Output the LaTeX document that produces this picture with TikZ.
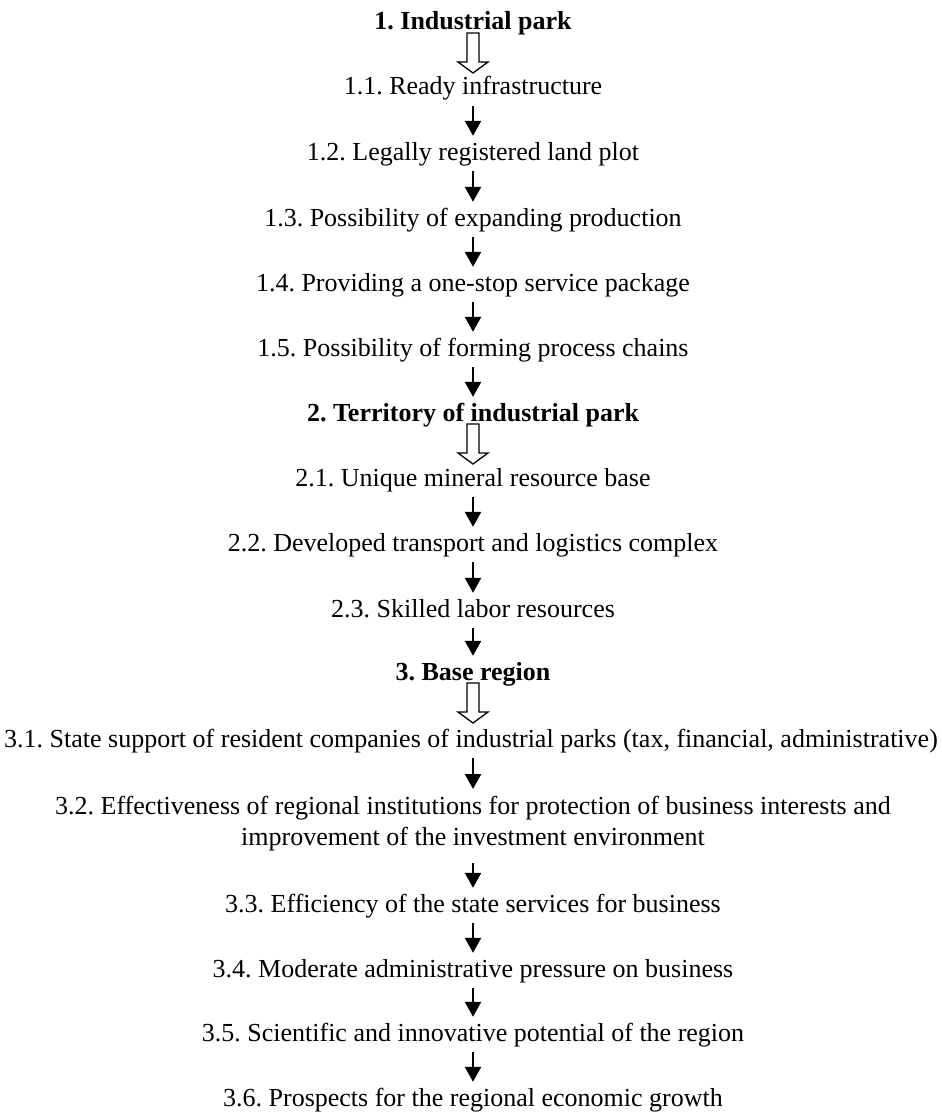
\documentclass[tikz,border=0pt]{standalone}
\usepackage{fontspec}
\setmainfont{Liberation Serif}
\usepackage{tikz}
\usetikzlibrary{arrows.meta,calc}
\frenchspacing

\begin{document}
\begin{tikzpicture}[x=1pt, y=1pt,
    item/.style={anchor=base, inner sep=0pt, text height=17pt, text depth=6pt, font=\fontsize{26}{31}\selectfont},
    head/.style={item, font=\fontsize{26}{31}\selectfont\bfseries},
    twoline/.style={anchor=north, inner sep=0pt, align=center, font=\fontsize{26}{31}\selectfont},
    arr/.style={line width=2.4pt, -{Triangle[width=16pt,length=15pt]}, shorten <=5pt, shorten >=7pt},
    hollow/.style={draw, line width=1.3pt, fill=white}
  ]
    \useasboundingbox (0,0) rectangle (942,-1116);
    % 1
    \node[head] (park) at (473,-30) {1. Industrial park};
    \node[item] (p1) at (473,-95) {1.1. Ready infrastructure};
    \node[item] (p2) at (473,-160) {1.2. Legally registered land plot};
    \node[item] (p3) at (473,-226) {1.3. Possibility of expanding production};
    \node[item] (p4) at (473,-291) {1.4. Providing a one-stop service package};
    \node[item] (p5) at (473,-356) {1.5. Possibility of forming process chains};
    % 2
    \node[head] (terr) at (473,-421) {2. Territory of industrial park};
    \node[item] (t1) at (473,-486) {2.1. Unique mineral resource base};
    \node[item] (t2) at (473,-551) {2.2. Developed transport and logistics complex};
    \node[item] (t3) at (473,-617) {2.3. Skilled labor resources};
    % 3
    \node[head] (reg) at (473,-680) {3. Base region};
    \node[item] (r1) at (471,-747) {3.1. State support of resident companies of industrial parks (tax, financial, administrative)};
    \node[twoline] (r2) at (473,-796) {3.2. Effectiveness of regional institutions for protection of business interests and\\improvement of the investment environment};
    \node[item] (r3) at (473,-912) {3.3. Efficiency of the state services for business};
    \node[item] (r4) at (473,-977) {3.4. Moderate administrative pressure on business};
    \node[item] (r5) at (473,-1041) {3.5. Scientific and innovative potential of the region};
    \node[item] (r6) at (473,-1106) {3.6. Prospects for the regional economic growth};

    \foreach \a/\b in {p1/p2, p2/p3, p3/p4, p4/p5, p5/terr, t1/t2, t2/t3, t3/reg,
                       r1/r2, r3/r4, r4/r5, r5/r6}
      \draw[arr] (\a.south -| 473,0) -- (\b.north -| 473,0);
    \draw[arr, shorten <=12pt] (r2.south -| 473,0) -- (r3.north -| 473,0);

    % hollow arrows under the headings
    \foreach \h in {park, terr, reg}
      \draw[hollow] ($(\h.base -| 473,0)+(-6,-3)$) -- ++(0,-29) -- ++(-9,0) -- ++(15,-11)
        -- ++(15,11) -- ++(-9,0) -- ++(0,29) -- cycle;
\end{tikzpicture}
\end{document}
